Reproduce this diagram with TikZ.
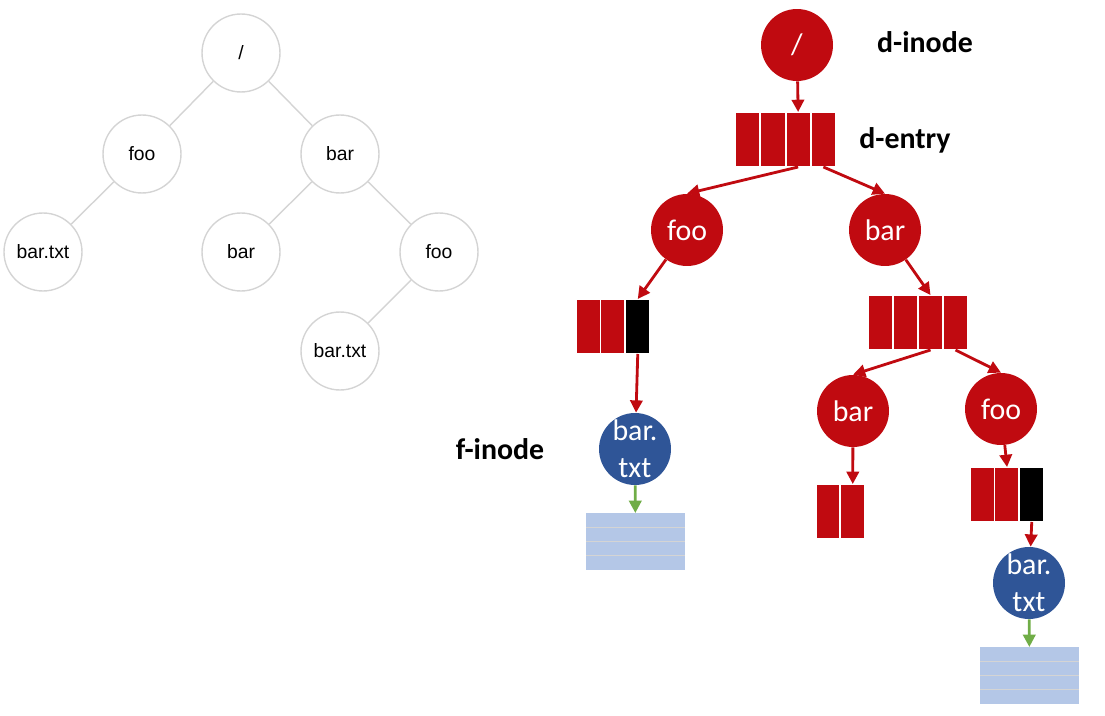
\documentclass[tikz,border=0pt]{standalone}
\usepackage{fontspec}
\usepackage{tikz}
\usetikzlibrary{arrows.meta, calc}

\newfontfamily\calfont{Carlito}
\newfontfamily\arialfont{Liberation Sans}

\definecolor{dred}{RGB}{192,10,16}
\definecolor{fblue}{RGB}{47,85,151}
\definecolor{blkblue}{RGB}{180,199,231}
\definecolor{ptrgreen}{RGB}{112,173,71}
\definecolor{treegray}{RGB}{212,212,212}

\begin{document}
\begin{tikzpicture}[
    x=0.02cm, y=-0.02cm,
    plainnode/.style={circle, draw=treegray, line width=0.8pt, minimum size=1.56cm,
        inner sep=0pt, font=\arialfont\fontsize{11}{13}\selectfont},
    treeline/.style={draw=treegray, line width=0.8pt},
    dnode/.style={circle, fill=dred, text=white, minimum size=1.44cm, inner sep=0pt,
        font=\calfont\fontsize{17}{21}\selectfont},
    fnode/.style={circle, fill=fblue, text=white, minimum size=1.44cm, inner sep=-8pt,
        align=center, font=\calfont\fontsize{17}{21}\selectfont},
    cell/.style={rectangle, fill=dred, draw=white, line width=1pt,
        minimum width=0.5cm, minimum height=1.1cm, inner sep=0pt, outer sep=0pt},
    endcell/.style={cell, fill=black},
    datablock/.style={rectangle, fill=blkblue, minimum width=1.98cm,
        minimum height=1.14cm, inner sep=0pt, outer sep=0pt},
    ptr/.style={-{Triangle[length=7pt, width=7pt]}, line width=1.6pt, dred},
    dataptr/.style={-{Triangle[length=7pt, width=7pt]}, line width=1.6pt, ptrgreen},
    tag/.style={font=\calfont\bfseries\fontsize{17}{20}\selectfont}
]

\useasboundingbox (0,0) rectangle (1105,716);

% ---------- Plain directory tree ----------
\node[plainnode] (troot) at (241,53) {/};
\node[plainnode] (tfoo) at (142,154) {foo};
\node[plainnode] (tbar) at (340,154) {bar};
\node[plainnode] (tfile) at (43,252) {bar.txt};
\node[plainnode] (tbarbar) at (241,252) {bar};
\node[plainnode] (tbarfoo) at (439,252) {foo};
\node[plainnode] (tbarfile) at (340,351) {bar.txt};

\draw[treeline] (troot) -- (tfoo);
\draw[treeline] (troot) -- (tbar);
\draw[treeline] (tfoo) -- (tfile);
\draw[treeline] (tbar) -- (tbarbar);
\draw[treeline] (tbar) -- (tbarfoo);
\draw[treeline] (tbarfoo) -- (tbarfile);

% ---------- Inodes ----------
\node[dnode] (root) at (797,45) {/};
\node[dnode] (foo) at (687,230) {foo};
\node[dnode] (bar) at (885,230) {bar};
\node[dnode] (barbar) at (853,411) {bar};
\node[dnode] (barfoo) at (1001,409) {foo};
\node[fnode] (file) at (635,449) {bar.\\txt};
\node[fnode] (barfile) at (1029,583) {bar.\\txt};

% ---------- Dentry arrays ----------
\foreach \i in {1,...,4}
    \node[cell] (de\i) at ({735+25.25*(\i-0.5)},139.5) {};
\foreach \i in {1,...,4}
    \node[cell] (ba\i) at ({868+25*(\i-0.5)},322.5) {};
\foreach \i in {1,2}
    \node[cell] (bb\i) at ({816+24.5*(\i-0.5)},511.5) {};

\node[cell] (fa1) at ({576+24.7*0.5},326.5) {};
\node[cell] (fa2) at ({576+24.7*1.5},326.5) {};
\node[endcell] (fa3) at ({576+24.7*2.5},326.5) {};

\node[cell] (fb1) at ({970+24.7*0.5},494.5) {};
\node[cell] (fb2) at ({970+24.7*1.5},494.5) {};
\node[endcell] (fb3) at ({970+24.7*2.5},494.5) {};

% ---------- Data blocks ----------
\node[datablock] (blk) at (635.5,541.5) {};
\node[datablock] (barblk) at (1029.5,675.5) {};
\foreach \b in {blk,barblk}
    \foreach \k in {1,2,3}
        \draw[treegray, line width=0.6pt]
            ($(\b.north west)!\k/4!(\b.south west)$) -- ($(\b.north east)!\k/4!(\b.south east)$);

% ---------- Pointers ----------
\draw[ptr] (root) -- (de3.north);
\draw[ptr] (de3.south) -- (foo.north);
\draw[ptr] (de4.south) -- (bar.north);
\draw[ptr] (foo) -- (fa3.north);
\draw[ptr] (fa3.south) -- (file);
\draw[ptr] (bar) -- (ba3.north);
\draw[ptr] (ba3.south) -- (barbar.north);
\draw[ptr] (ba4.south) -- (barfoo.north);
\draw[ptr] (barbar) -- (bb2.north);
\draw[ptr] (barfoo) -- (fb2.north);
\draw[ptr] (fb3.south) -- (barfile);

\draw[dataptr] (file) -- (blk);
\draw[dataptr] (barfile) -- (barblk);

% ---------- Labels ----------
\node[tag] (dinode) at (925,42) {d-inode};
\node[tag] (dentry) at (905,140) {d-entry};
\node[tag] (finode) at (500,449) {f-inode};

\end{tikzpicture}
\end{document}
